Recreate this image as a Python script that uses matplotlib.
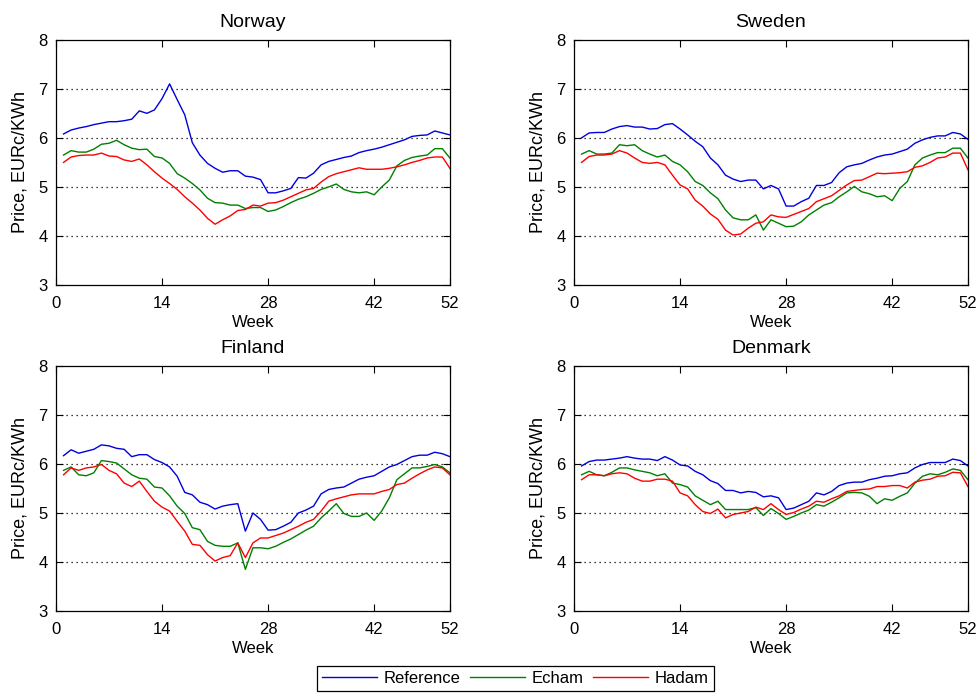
import numpy as np
from matplotlib import pyplot as plt

plt.rcParams['font.family'] = ['Liberation Sans', 'DejaVu Sans']

weeks = np.arange(1, 53)

norwayRef = [6.08, 6.16, 6.2, 6.23, 6.27, 6.3, 6.33, 6.33, 6.35, 6.38,
             6.55, 6.5, 6.57, 6.8, 7.1, 6.78, 6.47, 5.9, 5.65, 5.48,
             5.38, 5.3, 5.33, 5.33, 5.22, 5.2, 5.15, 4.88, 4.88, 4.92,
             4.97, 5.19, 5.18, 5.28, 5.45, 5.52, 5.56, 5.6, 5.63, 5.7,
             5.74, 5.77, 5.81, 5.86, 5.91, 5.96, 6.03, 6.05, 6.06, 6.14,
             6.1, 6.06]
norwayEcham = [5.65, 5.74, 5.71, 5.71, 5.77, 5.87, 5.89, 5.95, 5.86, 5.79,
               5.76, 5.77, 5.62, 5.59, 5.48, 5.27, 5.18, 5.07, 4.94, 4.77,
               4.68, 4.67, 4.63, 4.63, 4.56, 4.58, 4.58, 4.5, 4.53, 4.6,
               4.68, 4.75, 4.8, 4.87, 4.95, 5.0, 5.06, 4.95, 4.9, 4.88,
               4.9, 4.84, 5.0, 5.14, 5.43, 5.54, 5.6, 5.63, 5.65, 5.78,
               5.78, 5.59]
norwayHadam = [5.5, 5.61, 5.64, 5.65, 5.65, 5.69, 5.63, 5.62, 5.55, 5.52,
               5.57, 5.45, 5.31, 5.18, 5.07, 4.95, 4.8, 4.67, 4.53, 4.36,
               4.24, 4.33, 4.41, 4.52, 4.54, 4.63, 4.61, 4.67, 4.68, 4.73,
               4.8, 4.87, 4.94, 4.97, 5.1, 5.21, 5.27, 5.31, 5.35, 5.39,
               5.36, 5.36, 5.36, 5.38, 5.41, 5.45, 5.5, 5.54, 5.59, 5.61,
               5.61, 5.38]

swedenRef = [6.0, 6.1, 6.11, 6.11, 6.18, 6.23, 6.25, 6.22, 6.22, 6.18,
             6.19, 6.27, 6.29, 6.18, 6.06, 5.93, 5.82, 5.59, 5.45, 5.24,
             5.16, 5.11, 5.14, 5.14, 4.96, 5.03, 4.96, 4.61, 4.61, 4.7,
             4.77, 5.03, 5.03, 5.09, 5.29, 5.41, 5.45, 5.48, 5.55, 5.61,
             5.65, 5.67, 5.72, 5.77, 5.89, 5.96, 6.01, 6.04, 6.04, 6.11,
             6.08, 5.97]
swedenEcham = [5.67, 5.74, 5.67, 5.67, 5.69, 5.86, 5.84, 5.86, 5.74, 5.67,
               5.61, 5.65, 5.52, 5.45, 5.31, 5.11, 5.03, 4.88, 4.76, 4.53,
               4.37, 4.33, 4.33, 4.43, 4.12, 4.33, 4.26, 4.19, 4.2, 4.29,
               4.43, 4.53, 4.63, 4.68, 4.8, 4.9, 5.01, 4.9, 4.86, 4.8,
               4.82, 4.72, 4.97, 5.11, 5.45, 5.59, 5.65, 5.7, 5.7, 5.79,
               5.79, 5.59]
swedenHadam = [5.5, 5.62, 5.65, 5.65, 5.67, 5.74, 5.69, 5.59, 5.5, 5.48,
               5.5, 5.45, 5.24, 5.04, 4.96, 4.73, 4.61, 4.45, 4.34, 4.12,
               4.02, 4.04, 4.16, 4.26, 4.29, 4.43, 4.39, 4.38, 4.44, 4.5,
               4.56, 4.7, 4.76, 4.82, 4.93, 5.04, 5.13, 5.14, 5.21, 5.28,
               5.27, 5.28, 5.29, 5.31, 5.4, 5.43, 5.5, 5.59, 5.61, 5.69,
               5.69, 5.35]

finlandRef = [6.17, 6.29, 6.22, 6.26, 6.3, 6.39, 6.37, 6.32, 6.3, 6.15,
              6.19, 6.19, 6.09, 6.03, 5.94, 5.75, 5.42, 5.37, 5.22, 5.17,
              5.08, 5.14, 5.17, 5.19, 4.63, 5.0, 4.87, 4.65, 4.66, 4.73,
              4.81, 5.0, 5.06, 5.14, 5.39, 5.48, 5.51, 5.53, 5.61, 5.69,
              5.73, 5.76, 5.85, 5.94, 5.99, 6.07, 6.15, 6.18, 6.18, 6.24,
              6.21, 6.15]
finlandEcham = [5.87, 5.94, 5.78, 5.76, 5.82, 6.07, 6.05, 6.02, 5.9, 5.78,
                5.71, 5.69, 5.53, 5.51, 5.35, 5.14, 4.99, 4.7, 4.66, 4.42,
                4.34, 4.32, 4.32, 4.39, 3.85, 4.29, 4.29, 4.27, 4.32, 4.4,
                4.47, 4.56, 4.65, 4.73, 4.9, 5.04, 5.19, 4.99, 4.93, 4.93,
                5.0, 4.85, 5.04, 5.31, 5.68, 5.8, 5.92, 5.92, 5.95, 5.99,
                5.94, 5.82]
finlandHadam = [5.78, 5.92, 5.87, 5.92, 5.94, 5.99, 5.87, 5.8, 5.61, 5.54,
                5.65, 5.44, 5.24, 5.12, 5.04, 4.83, 4.63, 4.36, 4.34, 4.15,
                4.02, 4.09, 4.13, 4.39, 4.09, 4.39, 4.49, 4.49, 4.54, 4.59,
                4.66, 4.73, 4.81, 4.87, 5.04, 5.24, 5.29, 5.33, 5.37, 5.39,
                5.39, 5.39, 5.44, 5.48, 5.58, 5.61, 5.71, 5.8, 5.88, 5.94,
                5.92, 5.78]

denmarkRef = [5.96, 6.05, 6.08, 6.08, 6.1, 6.12, 6.15, 6.12, 6.1, 6.1,
              6.07, 6.15, 6.08, 5.98, 5.96, 5.85, 5.78, 5.66, 5.6, 5.46,
              5.46, 5.41, 5.44, 5.42, 5.33, 5.35, 5.31, 5.07, 5.1, 5.17,
              5.24, 5.41, 5.37, 5.44, 5.56, 5.61, 5.63, 5.63, 5.68, 5.71,
              5.75, 5.76, 5.8, 5.82, 5.92, 5.99, 6.03, 6.03, 6.03, 6.1,
              6.07, 5.96]
denmarkEcham = [5.78, 5.85, 5.78, 5.76, 5.83, 5.92, 5.92, 5.88, 5.85, 5.82,
                5.76, 5.8, 5.61, 5.58, 5.53, 5.35, 5.26, 5.17, 5.24, 5.07,
                5.07, 5.07, 5.07, 5.11, 4.95, 5.09, 4.99, 4.87, 4.93, 5.0,
                5.06, 5.17, 5.14, 5.22, 5.31, 5.41, 5.42, 5.41, 5.34, 5.19,
                5.29, 5.26, 5.34, 5.41, 5.61, 5.75, 5.8, 5.78, 5.83, 5.9,
                5.87, 5.68]
denmarkHadam = [5.68, 5.78, 5.78, 5.76, 5.8, 5.82, 5.8, 5.71, 5.65, 5.65,
                5.69, 5.69, 5.65, 5.41, 5.35, 5.17, 5.03, 4.99, 5.08, 4.9,
                4.97, 5.0, 5.03, 5.12, 5.07, 5.19, 5.07, 4.97, 5.01, 5.08,
                5.14, 5.24, 5.22, 5.29, 5.35, 5.44, 5.46, 5.48, 5.49, 5.54,
                5.54, 5.56, 5.56, 5.51, 5.63, 5.67, 5.69, 5.75, 5.76, 5.83,
                5.82, 5.54]

countries = ["Norway", "Sweden", "Finland", "Denmark"]
series = [(norwayRef, norwayEcham, norwayHadam),
          (swedenRef, swedenEcham, swedenHadam),
          (finlandRef, finlandEcham, finlandHadam),
          (denmarkRef, denmarkEcham, denmarkHadam)]
seriesNames = ["Reference", "Echam", "Hadam"]
colors = ["#0000e0", "#008000", "#ff0000"]
xticks = [0, 14, 28, 42, 52]
yticks = [3, 4, 5, 6, 7, 8]

# axes boxes in figure fractions: left, bottom, width, height
boxes = [[0.0571, 0.591, 0.402, 0.352],
         [0.5857, 0.591, 0.402, 0.352],
         [0.0571, 0.1234, 0.402, 0.3515],
         [0.5857, 0.1234, 0.402, 0.3515]]

fig = plt.figure(figsize=(9.8, 6.97), dpi=100)
handles = []
for i in range(4):
    ax = fig.add_axes(boxes[i])
    for j in range(3):
        h, = ax.plot(weeks, series[i][j], color=colors[j], lw=1.0, label=seriesNames[j])
        if i == 0:
            handles.append(h)
    ax.set_xlim([0, 52])
    ax.set_ylim([3, 8])
    ax.set_xticks(xticks)
    ax.set_yticks(yticks)
    for y in [4, 5, 6, 7]:
        ax.axhline(y, color="k", lw=0.9, ls=(0, (1, 3)), zorder=0)
    ax.tick_params(direction="in", top=True, right=True, labelsize=12, length=5)
    ax.tick_params(axis="x", pad=8)
    ax.tick_params(axis="y", pad=6)
    for s in ax.spines.values():
        s.set_linewidth(0.9)
    ax.set_title(countries[i], fontsize=14, fontweight="normal", pad=9)
    ax.set_xlabel("Week", fontsize=12, labelpad=3)
    ax.set_ylabel("Price, EURc/KWh", fontsize=13, labelpad=7)

leg = fig.legend(handles=handles, loc="center", ncol=3, bbox_to_anchor=(0.526, 0.027),
                 fontsize=12, handlelength=3.3, handletextpad=0.4, columnspacing=0.55,
                 fancybox=False, edgecolor="k", framealpha=1, borderpad=0.3)
leg.get_frame().set_linewidth(0.9)

fig.savefig("out.png", dpi=100)
